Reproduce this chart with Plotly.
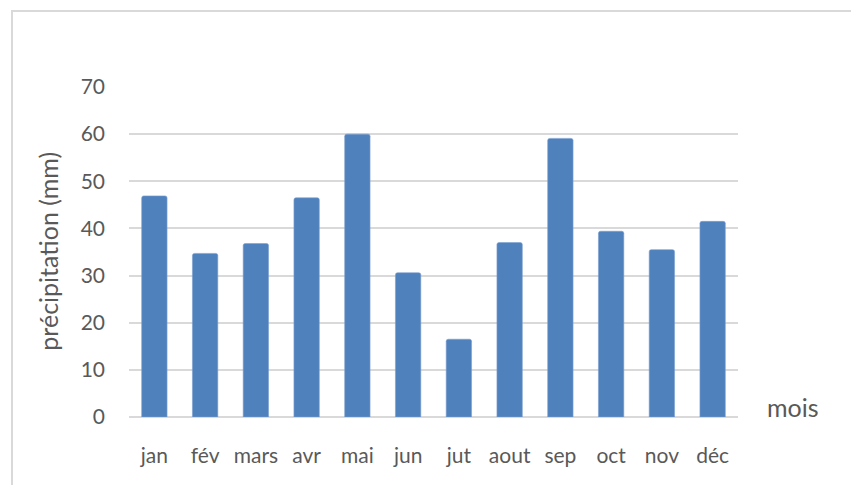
import plotly.graph_objects as go

months = ["jan", "fév", "mars", "avr", "mai", "jun", "jut", "aout", "sep", "oct", "nov", "déc"]
precip_mm = [46.9, 34.7, 36.8, 46.5, 60.0, 30.6, 16.5, 37.0, 59.1, 39.4, 35.5, 41.5]
y_ticks = [0, 10, 20, 30, 40, 50, 60, 70]

FONT = "Lato, 'Open Sans', sans-serif"
TXT = "#595959"
GRID = "#d9d9d9"

fig = go.Figure()
fig.add_trace(go.Bar(
    x=months, y=precip_mm,
    marker=dict(color="#4F81BD", line=dict(color="#7d9fcf", width=0.6), cornerradius=2),
    width=0.5,
    hoverinfo="x+y",
))

fig.update_layout(
    width=859, height=485,
    margin=dict(l=121, r=129, t=79, b=76),
    paper_bgcolor="white", plot_bgcolor="white",
    showlegend=False,
    font=dict(family=FONT, size=21, color=TXT),
    xaxis=dict(
        type="category", showgrid=False, showline=False, zeroline=False,
        ticks="", ticklabelstandoff=24,
        tickfont=dict(size=21, color=TXT),
    ),
    yaxis=dict(
        range=[0, 70], tickvals=y_ticks, showgrid=True, gridcolor=GRID, gridwidth=1.5,
        zeroline=True, zerolinecolor=GRID, zerolinewidth=2,
        showline=False, ticks="", ticklabelstandoff=23,
        tickfont=dict(size=21, color=TXT),
    ),
    shapes=[dict(
        type="rect", xref="paper", yref="paper",
        x0=-0.1921, y0=-1.0, x1=2.0, y1=1.2303,
        line=dict(color=GRID, width=2), fillcolor="rgba(0,0,0,0)", layer="below",
    )],
    annotations=[
        dict(text="précipitation (mm)", xref="paper", yref="paper",
             x=-0.1336, y=0.503, textangle=-90, showarrow=False,
             xanchor="center", yanchor="middle",
             font=dict(size=25, color=TXT, family=FONT)),
        dict(text="mois", xref="paper", yref="paper",
             x=1.091, y=0.03, showarrow=False,
             xanchor="center", yanchor="middle",
             font=dict(size=25, color=TXT, family=FONT)),
    ],
)

fig.write_html("out.html")
